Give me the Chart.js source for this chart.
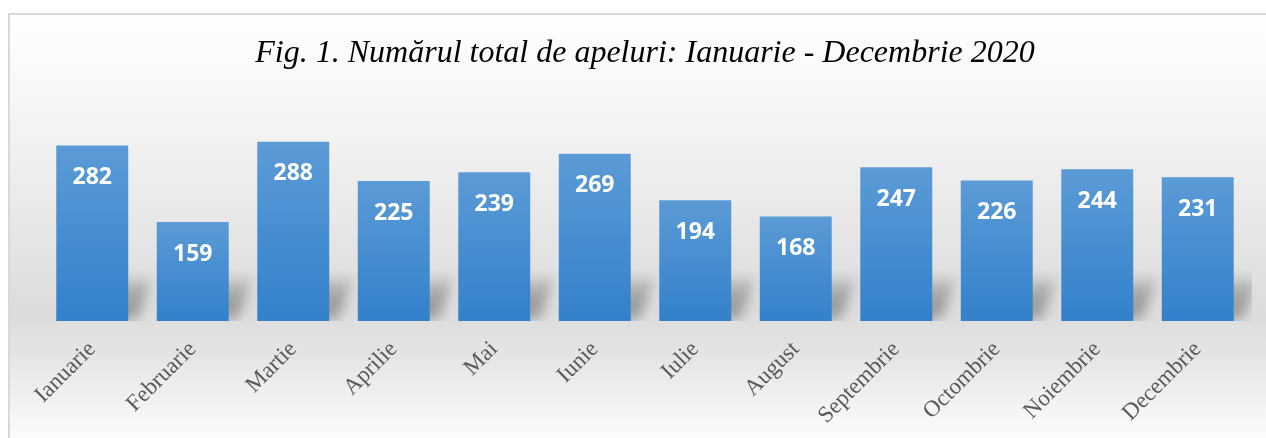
<!DOCTYPE html>
<html>
<head>
<meta charset="utf-8">
<script src="https://cdn.jsdelivr.net/npm/chart.js@4/dist/chart.umd.min.js"></script>
<style>
  html, body { margin: 0; padding: 0; background: #fff; }
  #wrap { position: relative; width: 1266px; height: 438px; }
</style>
</head>
<body>
<div id="wrap"><canvas id="barChart"></canvas></div>
<script>
// data
var months = ['Ianuarie', 'Februarie', 'Martie', 'Aprilie', 'Mai', 'Iunie', 'Iulie', 'August', 'Septembrie', 'Octombrie', 'Noiembrie', 'Decembrie'];
var calls = [282, 159, 288, 225, 239, 269, 194, 168, 247, 226, 244, 231];
var titleText = 'Fig. 1. Numărul total de apeluri: Ianuarie - Decembrie 2020';

var serif = '"Liberation Serif", "Times New Roman", serif';

// panel background + border
var backdrop = {
  id: 'backdrop',
  beforeDraw: function (chart) {
    var ctx = chart.ctx;
    var w = chart.width, h = chart.height;
    ctx.save();
    ctx.fillStyle = '#ffffff';
    ctx.fillRect(0, 0, w, h);
    var g = ctx.createLinearGradient(0, 13, 0, h);
    g.addColorStop(0, '#ffffff');
    g.addColorStop(0.25, '#f4f4f4');
    g.addColorStop(0.70, '#dcdcdc');
    g.addColorStop(0.80, '#e4e4e4');
    g.addColorStop(1, '#fcfcfc');
    ctx.fillStyle = g;
    ctx.fillRect(8, 13, w - 8, h - 13);
    ctx.strokeStyle = '#d9d9d9';
    ctx.lineWidth = 2;
    ctx.beginPath();
    ctx.moveTo(9, h + 2);
    ctx.lineTo(9, 14);
    ctx.lineTo(w + 2, 14);
    ctx.stroke();
    ctx.restore();
  }
};

// soft perspective shadow behind each bar
var barShadow = {
  id: 'barShadow',
  beforeDatasetsDraw: function (chart) {
    var ctx = chart.ctx;
    var area = chart.chartArea;
    var meta = chart.getDatasetMeta(0);
    var b0 = area.bottom;
    ctx.save();
    ctx.beginPath();
    ctx.rect(area.left, area.top, area.right - area.left + 4, area.bottom - area.top);
    ctx.clip();
    ctx.filter = 'blur(6px)';
    var g = ctx.createLinearGradient(0, b0 - 48, 0, b0);
    g.addColorStop(0, 'rgba(0,0,0,0)');
    g.addColorStop(0.35, 'rgba(0,0,0,0.22)');
    g.addColorStop(0.7, 'rgba(0,0,0,0.30)');
    g.addColorStop(1, 'rgba(0,0,0,0.22)');
    ctx.fillStyle = g;
    meta.data.forEach(function (bar) {
      var left = bar.x - bar.width / 2;
      var right = bar.x + bar.width / 2;
      var b = bar.base;
      ctx.beginPath();
      ctx.moveTo(left + 10, b);
      ctx.lineTo(left + 20, b - 46);
      ctx.lineTo(right + 26, b - 46);
      ctx.lineTo(right + 8, b);
      ctx.closePath();
      ctx.fill();
    });
    ctx.restore();
  }
};

// white value labels inside the bars
var valueLabels = {
  id: 'valueLabels',
  afterDatasetsDraw: function (chart) {
    var ctx = chart.ctx;
    var meta = chart.getDatasetMeta(0);
    ctx.save();
    ctx.fillStyle = '#ffffff';
    ctx.font = 'bold 23px "Open Sans", "Liberation Sans", sans-serif';
    ctx.textAlign = 'center';
    ctx.textBaseline = 'middle';
    meta.data.forEach(function (bar, i) {
      ctx.fillText(String(calls[i]), bar.x, bar.y + 32);
    });
    ctx.restore();
  }
};

function barFill(context) {
  var chart = context.chart;
  var area = chart.chartArea;
  if (!area) return '#4a90d2';
  var v = context.raw;
  var top = chart.scales.y.getPixelForValue(v);
  var g = chart.ctx.createLinearGradient(0, top, 0, area.bottom);
  g.addColorStop(0, '#5b9bd6');
  g.addColorStop(1, '#3381cb');
  return g;
}

new Chart(document.getElementById('barChart'), {
  type: 'bar',
  data: {
    labels: months,
    datasets: [{
      label: 'Apeluri',
      data: calls,
      backgroundColor: barFill,
      borderWidth: 0,
      barPercentage: 0.716,
      categoryPercentage: 1.0
    }]
  },
  options: {
    responsive: true,
    maintainAspectRatio: false,
    animation: false,
    layout: { padding: { left: 42, right: 18, top: 0, bottom: 0 } },
    plugins: {
      legend: { display: false },
      tooltip: { enabled: false },
      title: {
        display: true,
        text: titleText,
        color: '#000000',
        font: { family: serif, size: 32, style: 'italic', weight: 'normal' },
        padding: { top: 34, bottom: 62 }
      }
    },
    scales: {
      x: {
        grid: { display: false },
        border: { display: false },
        ticks: {
          color: '#595959',
          font: { family: serif, size: 23 },
          minRotation: 45,
          maxRotation: 45,
          autoSkip: false,
          padding: 7
        },
        afterFit: function (scale) { scale.height = 117; }
      },
      y: {
        display: false,
        min: 0,
        max: 300
      }
    }
  },
  plugins: [backdrop, barShadow, valueLabels]
});
</script>
</body>
</html>
